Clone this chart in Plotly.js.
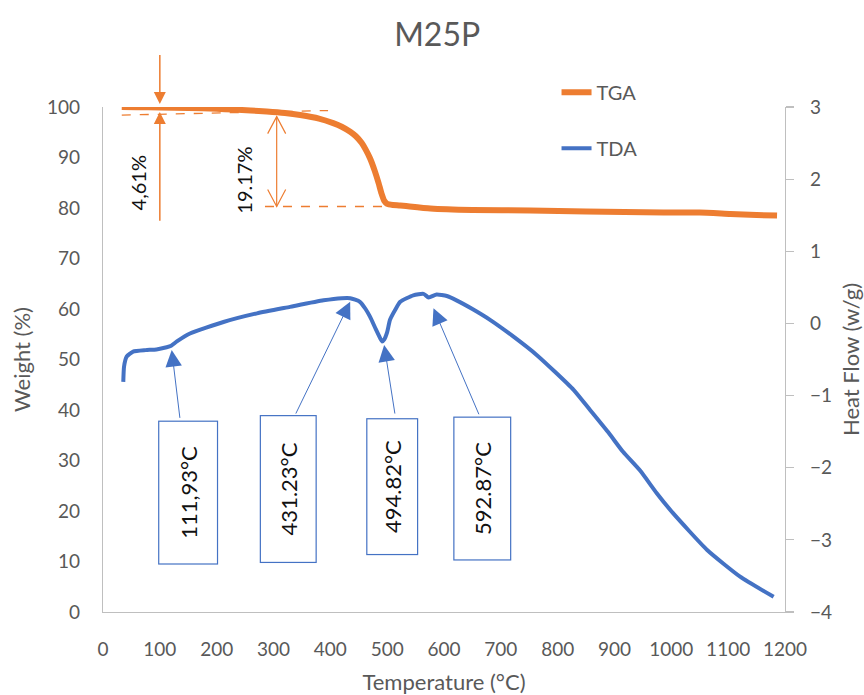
<!DOCTYPE html>
<html>
<head>
<meta charset="utf-8">
<script src="https://cdn.plot.ly/plotly-3.0.1.min.js"></script>
<style>html,body{margin:0;padding:0;background:#fff;}#chart{width:864px;height:695px;}</style>
</head>
<body>
<div id="chart"></div>
<script>
// ---- Data ----
const tgaTemp = [33, 60, 100, 150, 200, 229, 260, 288, 320, 347, 380, 405, 420, 435, 445, 455, 462, 470, 478, 485, 490, 495, 500, 510, 523, 576, 650, 752, 850, 986, 1050, 1104, 1150, 1186];
const tgaWeight = [100.0, 99.95, 99.9, 99.8, 99.65, 99.5, 99.3, 99.1, 98.8, 98.4, 97.7, 96.8, 96.1, 95.1, 94.2, 92.9, 91.6, 89.8, 87.4, 84.9, 82.9, 81.4, 80.8, 80.6, 80.5, 79.9, 79.6, 79.5, 79.3, 79.1, 79.1, 78.8, 78.6, 78.5];

const tdaTemp = [35.7, 37, 41.6, 53, 75, 94, 112, 120, 130, 153, 212, 271, 329, 388, 420, 435, 452, 462, 470, 480, 488, 491, 495, 500, 505, 515, 523, 546, 564, 573, 587, 605, 622, 650, 681, 720, 765, 828, 857, 890, 915, 945, 974, 1003, 1063, 1121, 1180];
const tdaHeat = [-0.81, -0.6, -0.46, -0.39, -0.37, -0.36, -0.33, -0.31, -0.25, -0.14, 0.02, 0.14, 0.23, 0.32, 0.35, 0.35, 0.30, 0.20, 0.09, -0.08, -0.21, -0.25, -0.22, -0.12, 0.05, 0.20, 0.30, 0.39, 0.41, 0.36, 0.40, 0.38, 0.32, 0.20, 0.05, -0.17, -0.45, -0.92, -1.20, -1.52, -1.78, -2.04, -2.35, -2.63, -3.14, -3.51, -3.79];

const xTickVals = [0, 100, 200, 300, 400, 500, 600, 700, 800, 900, 1000, 1100, 1200];
const weightTickVals = [0, 10, 20, 30, 40, 50, 60, 70, 80, 90, 100];
const heatTickVals = [-4, -3, -2, -1, 0, 1, 2, 3];

// peak annotations (text, arrow tip T / heat flow, arrow tail T / heat flow, box centre T / heat flow)
const peakLabels = ['111,93°C', '431.23°C', '494.82°C', '592.87°C'];
const peakTipTemp = [120.9, 434.9, 494.7, 581.5];
const peakTipHeat = [-0.37, 0.30, -0.30, 0.21];
const peakTailTemp = [135.6, 338, 514, 662.5];
const peakTailHeat = [-1.33, -1.27, -1.27, -1.28];
const boxTemp = [150.2, 326.2, 509.7, 666.7];
const boxHeat = [-2.34, -2.29, -2.26, -2.29];
const boxLong = [142, 146, 135, 142];
const boxShort = [58, 55, 50, 56];

// weight-loss markers
const lossLabels = ['4,61%', '19.17%'];

const ORANGE = '#ED7D31';
const BLUE = '#4472C4';
const GREY = '#595959';
const AXIS = '#BFBFBF';
const FONT = 'Lato, "Open Sans", sans-serif';

const traces = [
  {x: tgaTemp, y: tgaWeight, name: 'TGA', type: 'scatter', mode: 'lines',
   line: {color: ORANGE, width: 6, shape: 'spline', smoothing: 0.5}, yaxis: 'y', legendgroup: 'a'},
  {x: tdaTemp, y: tdaHeat, name: 'TDA', type: 'scatter', mode: 'lines',
   line: {color: BLUE, width: 4, shape: 'spline', smoothing: 0.5}, yaxis: 'y2', legendgroup: 'b'}
];

const annotations = [];
for (let i = 0; i < peakLabels.length; i++) {
  annotations.push({x: peakTipTemp[i], y: peakTipHeat[i], xref: 'x', yref: 'y2',
    ax: peakTailTemp[i], ay: peakTailHeat[i], axref: 'x', ayref: 'y2',
    text: '', showarrow: true, arrowhead: 2, arrowsize: 3.3, arrowwidth: 1, arrowcolor: BLUE, standoff: 0});
  annotations.push({x: boxTemp[i], y: boxHeat[i], xref: 'x', yref: 'y2', text: peakLabels[i],
    showarrow: false, textangle: -90, width: boxLong[i], height: boxShort[i],
    bordercolor: BLUE, borderwidth: 1.2, borderpad: 0, bgcolor: '#ffffff',
    font: {family: FONT, size: 22, color: '#111111'}});
}
// 4,61% arrows (the upper one starts above the plot area, so it uses paper coordinates)
annotations.push({x: 100, y: 1.006, xref: 'x', yref: 'paper', ax: 100, ay: 1.106, axref: 'x', ayref: 'paper',
  text: '', showarrow: true, arrowhead: 2, arrowsize: 1.6, arrowwidth: 1.5, arrowcolor: ORANGE, standoff: 0});
annotations.push({x: 100, y: 99.0, xref: 'x', yref: 'y', ax: 100, ay: 77.2, axref: 'x', ayref: 'y',
  text: '', showarrow: true, arrowhead: 2, arrowsize: 1.6, arrowwidth: 1.5, arrowcolor: ORANGE, standoff: 0});
annotations.push({x: 61, y: 85.0, xref: 'x', yref: 'y', text: lossLabels[0], showarrow: false, textangle: -90,
  font: {family: FONT, size: 20, color: '#111111'}});
annotations.push({x: 248, y: 85.6, xref: 'x', yref: 'y', text: lossLabels[1], showarrow: false, textangle: -90,
  font: {family: FONT, size: 20, color: '#111111'}});

const shapes = [
  {type: 'line', xref: 'x', yref: 'y', x0: 33, y0: 98.4, x1: 396, y1: 99.3, line: {color: ORANGE, width: 1.3, dash: 'dash'}},
  {type: 'line', xref: 'x', yref: 'y', x0: 285, y0: 80.3, x1: 493, y1: 80.3, line: {color: ORANGE, width: 1.3, dash: 'dash'}},
  {type: 'line', xref: 'x', yref: 'y', x0: 305.6, y0: 98.1, x1: 305.6, y1: 80.3, line: {color: ORANGE, width: 1.2}},
  {type: 'path', xref: 'x', yref: 'y', xsizemode: 'pixel', ysizemode: 'pixel', xanchor: 305.6, yanchor: 98.1,
   path: 'M-9,-17L0,0L9,-17', line: {color: ORANGE, width: 1.2}},
  {type: 'path', xref: 'x', yref: 'y', xsizemode: 'pixel', ysizemode: 'pixel', xanchor: 305.6, yanchor: 80.3,
   path: 'M-9,17L0,0L9,17', line: {color: ORANGE, width: 1.2}}
];

const layout = {
  width: 864, height: 695,
  paper_bgcolor: '#ffffff', plot_bgcolor: '#ffffff',
  margin: {l: 103, r: 79, t: 107, b: 83, pad: 0},
  font: {family: FONT, color: GREY, size: 19},
  title: {text: 'M25P', x: 0.506, xanchor: 'center', y: 0.95, yanchor: 'middle',
          font: {family: FONT, size: 32, color: GREY}},
  xaxis: {range: [0, 1200], tickvals: xTickVals, showgrid: false, zeroline: false,
          showline: true, linecolor: AXIS, linewidth: 1.2, ticks: '', ticklabelstandoff: 20,
          tickfont: {size: 19, color: GREY},
          title: {text: 'Temperature (°C)', font: {size: 22, color: GREY}, standoff: 18}},
  yaxis: {range: [0, 100], tickvals: weightTickVals, showgrid: false, zeroline: false,
          showline: true, linecolor: AXIS, linewidth: 1.2, ticks: '', ticklabelstandoff: 18,
          tickfont: {size: 19, color: GREY},
          title: {text: 'Weight (%)', font: {size: 22, color: GREY}, standoff: 10}},
  yaxis2: {range: [-4, 3], tickvals: heatTickVals, overlaying: 'y', side: 'right', showgrid: false, zeroline: false,
           showline: true, linecolor: AXIS, linewidth: 1.2, ticks: 'outside', ticklen: 8, tickcolor: AXIS, tickwidth: 1.2,
           ticklabelstandoff: 12, tickfont: {size: 19, color: GREY},
           title: {text: 'Heat Flow (w/g)', font: {size: 22, color: GREY}, standoff: 14}},
  showlegend: true,
  legend: {x: 0.665, y: 1.068, xanchor: 'left', yanchor: 'top', traceorder: 'grouped', tracegroupgap: 27,
           bgcolor: 'rgba(0,0,0,0)', font: {size: 20, color: GREY}},
  annotations: annotations,
  shapes: shapes
};

Plotly.newPlot('chart', traces, layout, {displayModeBar: false, staticPlot: true});
</script>
</body>
</html>
